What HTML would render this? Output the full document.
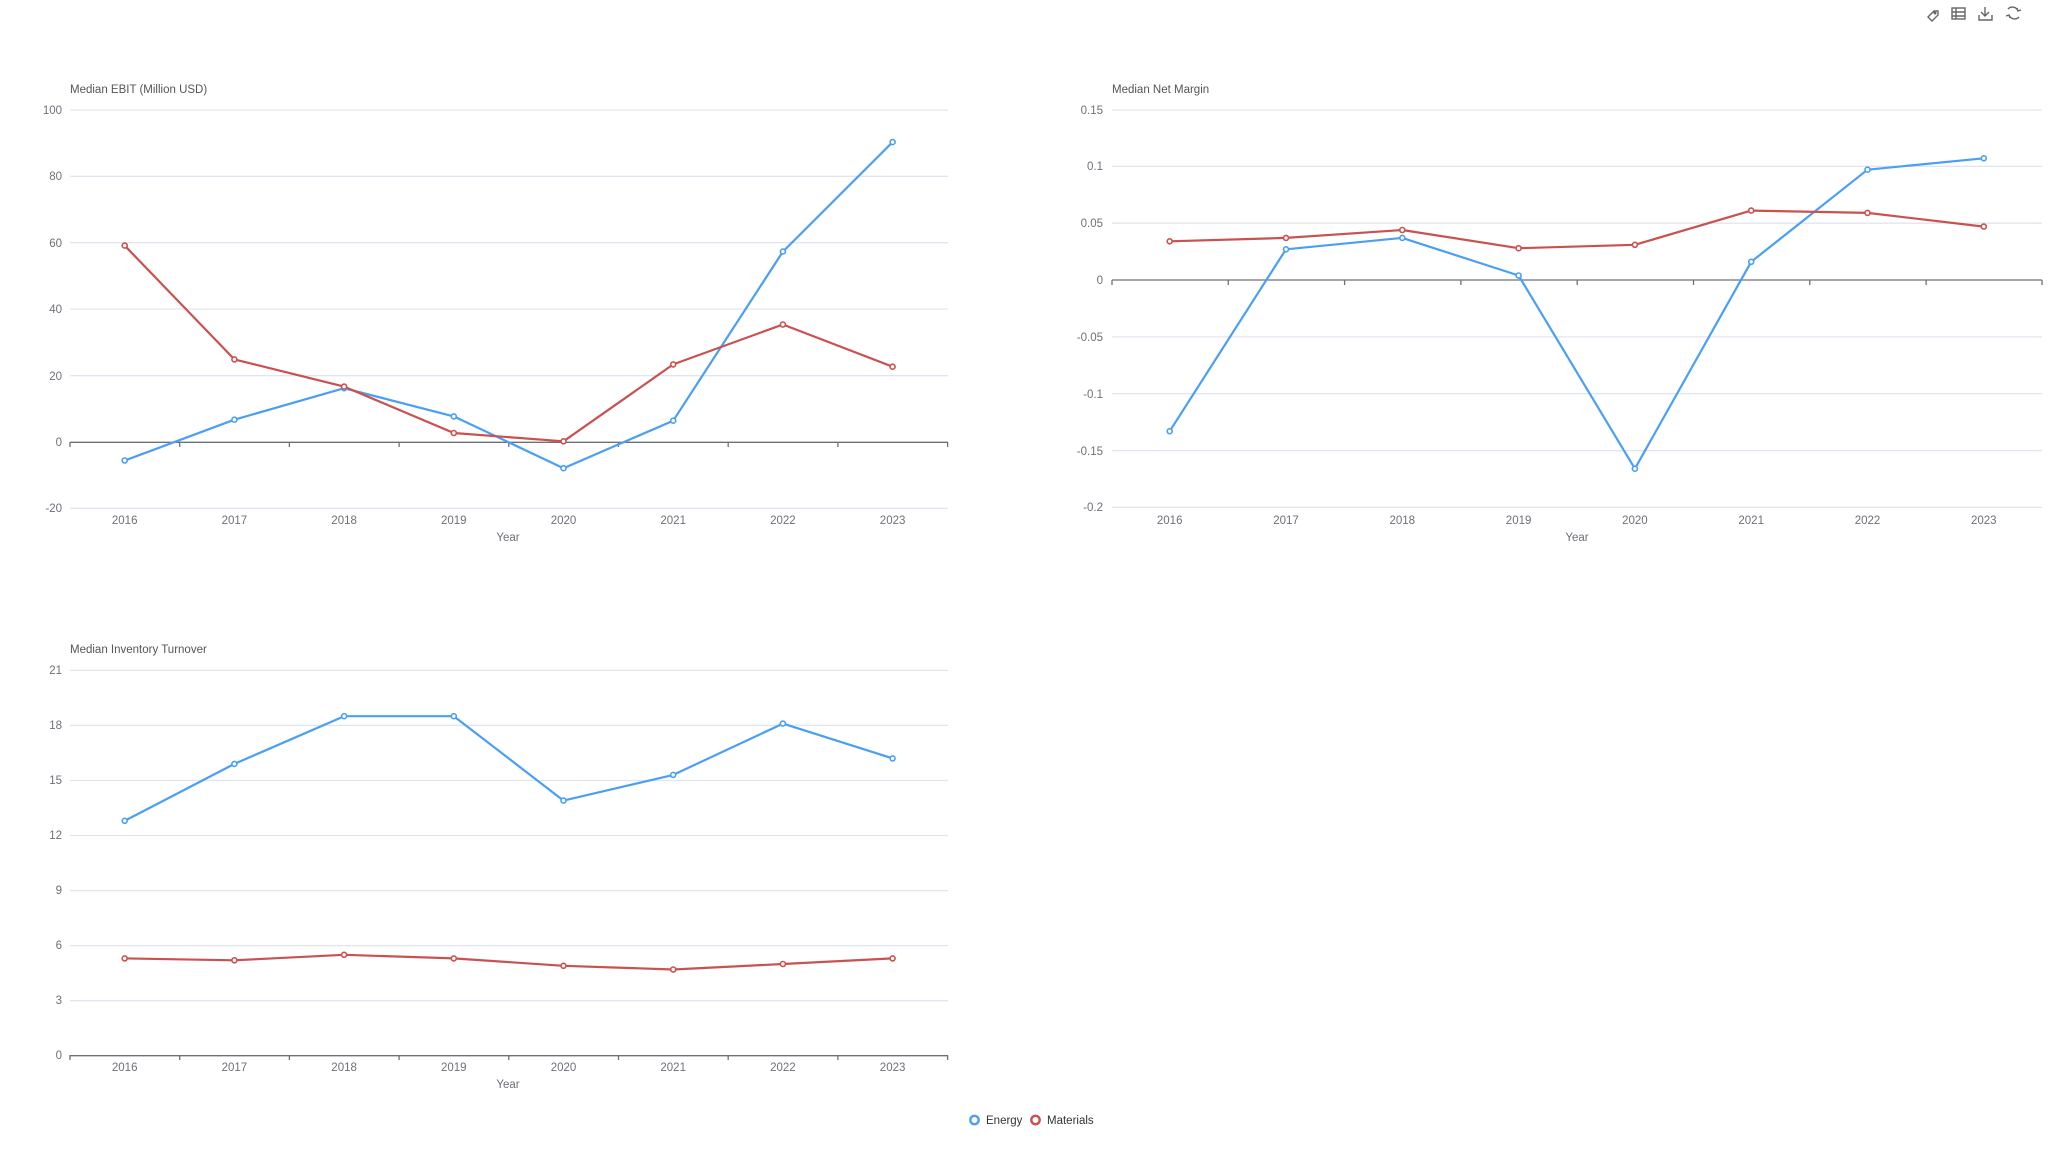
<!DOCTYPE html>
<html><head><meta charset="utf-8"><style>
html,body{margin:0;padding:0;background:#fff;}
svg{display:block;font-family:"Liberation Sans",sans-serif;}
.g{stroke:#e0e6f1;stroke-width:1.3}
.ax{stroke:#6e7079;stroke-width:1.3}
.t{fill:#6e7079;font-size:11.5px}
.tt{fill:#555;font-size:11.5px}
.e{fill:none;stroke:#4a9ff5;stroke-width:2.2;stroke-linejoin:round}
.m{fill:none;stroke:#c9514f;stroke-width:2.2;stroke-linejoin:round}
.ed circle{fill:#fff;stroke:#4a9ff5;stroke-width:1.6}
.md circle{fill:#fff;stroke:#c9514f;stroke-width:1.6}
</style></head><body>
<svg width="2058" height="1155" viewBox="0 0 2058 1155">
<!-- Chart 1 -->
<text class="tt" x="70" y="93">Median EBIT (Million USD)</text>
<g>
<line class="g" x1="70" x2="948" y1="110" y2="110"/><line class="g" x1="70" x2="948" y1="176.3" y2="176.3"/><line class="g" x1="70" x2="948" y1="242.7" y2="242.7"/><line class="g" x1="70" x2="948" y1="309" y2="309"/><line class="g" x1="70" x2="948" y1="375.7" y2="375.7"/><line class="g" x1="70" x2="948" y1="508.3" y2="508.3"/>
<line class="ax" x1="70" x2="948" y1="442.3" y2="442.3"/>
<path class="ax" d="M70 442v5M179.7 442v5M289.4 442v5M399.1 442v5M508.8 442v5M618.5 442v5M728.2 442v5M837.9 442v5M947.6 442v5"/>
<g class="t" text-anchor="end"><text x="62" y="114">100</text><text x="62" y="180">80</text><text x="62" y="247">60</text><text x="62" y="313">40</text><text x="62" y="380">20</text><text x="62" y="446">0</text><text x="62" y="512">-20</text></g>
<g class="t" text-anchor="middle"><text x="124.7" y="524">2016</text><text x="234.4" y="524">2017</text><text x="344.1" y="524">2018</text><text x="453.8" y="524">2019</text><text x="563.5" y="524">2020</text><text x="673.2" y="524">2021</text><text x="782.9" y="524">2022</text><text x="892.6" y="524">2023</text><text x="508" y="541">Year</text></g>
<polyline class="e" points="124.7,460.5 234.4,419.7 344.1,388.2 453.8,416.4 563.5,468.2 673.2,420.7 782.9,251.6 892.6,142.1"/>
<polyline class="m" points="124.7,245.6 234.4,359.4 344.1,386.6 453.8,433 563.5,441.3 673.2,364.4 782.9,324.5 892.6,366.7"/>
<g class="ed"><circle cx="124.7" cy="460.5" r="2.5"/><circle cx="234.4" cy="419.7" r="2.5"/><circle cx="344.1" cy="388.2" r="2.5"/><circle cx="453.8" cy="416.4" r="2.5"/><circle cx="563.5" cy="468.2" r="2.5"/><circle cx="673.2" cy="420.7" r="2.5"/><circle cx="782.9" cy="251.6" r="2.5"/><circle cx="892.6" cy="142.1" r="2.5"/></g>
<g class="md"><circle cx="124.7" cy="245.6" r="2.5"/><circle cx="234.4" cy="359.4" r="2.5"/><circle cx="344.1" cy="386.6" r="2.5"/><circle cx="453.8" cy="433" r="2.5"/><circle cx="563.5" cy="441.3" r="2.5"/><circle cx="673.2" cy="364.4" r="2.5"/><circle cx="782.9" cy="324.5" r="2.5"/><circle cx="892.6" cy="366.7" r="2.5"/></g>
</g>
<!-- Chart 2 -->
<text class="tt" x="1112" y="93">Median Net Margin</text>
<g>
<line class="g" x1="1112" x2="2042" y1="110" y2="110"/><line class="g" x1="1112" x2="2042" y1="166.3" y2="166.3"/><line class="g" x1="1112" x2="2042" y1="223.2" y2="223.2"/><line class="g" x1="1112" x2="2042" y1="336.9" y2="336.9"/><line class="g" x1="1112" x2="2042" y1="393.7" y2="393.7"/><line class="g" x1="1112" x2="2042" y1="450.6" y2="450.6"/><line class="g" x1="1112" x2="2042" y1="507.4" y2="507.4"/>
<line class="ax" x1="1112" x2="2042" y1="280" y2="280"/>
<path class="ax" d="M1112 280v5M1228.3 280v5M1344.6 280v5M1460.9 280v5M1577.2 280v5M1693.5 280v5M1809.8 280v5M1926.1 280v5M2042 280v5"/>
<g class="t" text-anchor="end"><text x="1103" y="114">0.15</text><text x="1103" y="170">0.1</text><text x="1103" y="227">0.05</text><text x="1103" y="284">0</text><text x="1103" y="341">-0.05</text><text x="1103" y="398">-0.1</text><text x="1103" y="455">-0.15</text><text x="1103" y="511">-0.2</text></g>
<g class="t" text-anchor="middle"><text x="1169.7" y="524">2016</text><text x="1286" y="524">2017</text><text x="1402.3" y="524">2018</text><text x="1518.6" y="524">2019</text><text x="1634.9" y="524">2020</text><text x="1751.2" y="524">2021</text><text x="1867.5" y="524">2022</text><text x="1983.8" y="524">2023</text><text x="1577" y="541">Year</text></g>
<polyline class="e" points="1169.7,431.2 1286,249.3 1402.3,237.9 1518.6,275.5 1634.9,468.7 1751.2,261.8 1867.5,169.7 1983.8,158.3"/>
<polyline class="m" points="1169.7,241.3 1286,237.9 1402.3,230 1518.6,248.2 1634.9,244.8 1751.2,210.6 1867.5,212.9 1983.8,226.6"/>
<g class="ed"><circle cx="1169.7" cy="431.2" r="2.5"/><circle cx="1286" cy="249.3" r="2.5"/><circle cx="1402.3" cy="237.9" r="2.5"/><circle cx="1518.6" cy="275.5" r="2.5"/><circle cx="1634.9" cy="468.7" r="2.5"/><circle cx="1751.2" cy="261.8" r="2.5"/><circle cx="1867.5" cy="169.7" r="2.5"/><circle cx="1983.8" cy="158.3" r="2.5"/></g>
<g class="md"><circle cx="1169.7" cy="241.3" r="2.5"/><circle cx="1286" cy="237.9" r="2.5"/><circle cx="1402.3" cy="230" r="2.5"/><circle cx="1518.6" cy="248.2" r="2.5"/><circle cx="1634.9" cy="244.8" r="2.5"/><circle cx="1751.2" cy="210.6" r="2.5"/><circle cx="1867.5" cy="212.9" r="2.5"/><circle cx="1983.8" cy="226.6" r="2.5"/></g>
</g>
<!-- Chart 3 -->
<text class="tt" x="70" y="653">Median Inventory Turnover</text>
<g>
<line class="g" x1="70" x2="948" y1="670.4" y2="670.4"/><line class="g" x1="70" x2="948" y1="725.4" y2="725.4"/><line class="g" x1="70" x2="948" y1="780.5" y2="780.5"/><line class="g" x1="70" x2="948" y1="835.5" y2="835.5"/><line class="g" x1="70" x2="948" y1="890.6" y2="890.6"/><line class="g" x1="70" x2="948" y1="945.6" y2="945.6"/><line class="g" x1="70" x2="948" y1="1000.7" y2="1000.7"/>
<line class="ax" x1="70" x2="948" y1="1055.7" y2="1055.7"/>
<path class="ax" d="M70 1055v5M179.7 1055v5M289.4 1055v5M399.1 1055v5M508.8 1055v5M618.5 1055v5M728.2 1055v5M837.9 1055v5M947.6 1055v5"/>
<g class="t" text-anchor="end"><text x="62" y="674">21</text><text x="62" y="729">18</text><text x="62" y="784">15</text><text x="62" y="839">12</text><text x="62" y="894">9</text><text x="62" y="949">6</text><text x="62" y="1004">3</text><text x="62" y="1059">0</text></g>
<g class="t" text-anchor="middle"><text x="124.7" y="1071">2016</text><text x="234.4" y="1071">2017</text><text x="344.1" y="1071">2018</text><text x="453.8" y="1071">2019</text><text x="563.5" y="1071">2020</text><text x="673.2" y="1071">2021</text><text x="782.9" y="1071">2022</text><text x="892.6" y="1071">2023</text><text x="508" y="1088">Year</text></g>
<polyline class="e" points="124.7,820.8 234.4,763.9 344.1,716.2 453.8,716.2 563.5,800.6 673.2,774.9 782.9,723.6 892.6,758.4"/>
<polyline class="m" points="124.7,958.4 234.4,960.3 344.1,954.8 453.8,958.4 563.5,965.8 673.2,969.5 782.9,964 892.6,958.4"/>
<g class="ed"><circle cx="124.7" cy="820.8" r="2.5"/><circle cx="234.4" cy="763.9" r="2.5"/><circle cx="344.1" cy="716.2" r="2.5"/><circle cx="453.8" cy="716.2" r="2.5"/><circle cx="563.5" cy="800.6" r="2.5"/><circle cx="673.2" cy="774.9" r="2.5"/><circle cx="782.9" cy="723.6" r="2.5"/><circle cx="892.6" cy="758.4" r="2.5"/></g>
<g class="md"><circle cx="124.7" cy="958.4" r="2.5"/><circle cx="234.4" cy="960.3" r="2.5"/><circle cx="344.1" cy="954.8" r="2.5"/><circle cx="453.8" cy="958.4" r="2.5"/><circle cx="563.5" cy="965.8" r="2.5"/><circle cx="673.2" cy="969.5" r="2.5"/><circle cx="782.9" cy="964" r="2.5"/><circle cx="892.6" cy="958.4" r="2.5"/></g>
</g>
<!-- Legend -->
<circle cx="974.5" cy="1120" r="4.2" fill="#fff" stroke="#4a9ff5" stroke-width="2.4"/>
<text x="986" y="1124" font-size="11.5" fill="#333">Energy</text>
<circle cx="1035.5" cy="1120" r="4.2" fill="#fff" stroke="#c9514f" stroke-width="2.4"/>
<text x="1047" y="1124" font-size="11.5" fill="#333">Materials</text>
<!-- Toolbox -->
<g fill="none" stroke="#666" stroke-width="1.4">
<path d="M1928 17l6-6h4v4l-6 6z"/><circle cx="1935" cy="13" r="0.8"/>
<rect x="1952" y="8" width="13" height="11"/><path d="M1952 12h13M1952 16h13M1956 8v11"/>
<path d="M1985 7v9M1981 12l4 4 4-4M1979 15v5h13v-5"/>
<path d="M2008 9a6 6 0 0 1 10 2M2019 17a6 6 0 0 1-10-2M2017 8l1 3 3-1M2010 18l-1-3-3 1"/>
</g>
</svg>
</body></html>
